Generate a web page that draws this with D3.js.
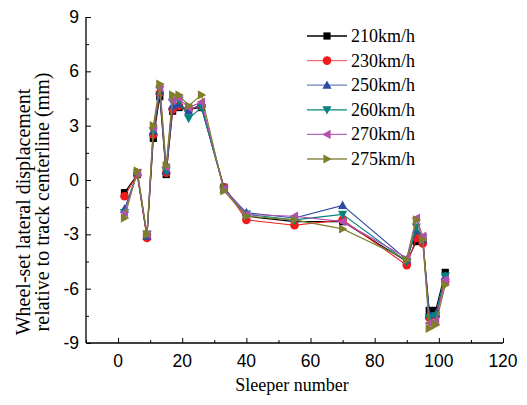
<!DOCTYPE html>
<html>
<head>
<meta charset="utf-8">
<script src="https://cdn.jsdelivr.net/npm/d3@7"></script>
<style>
  body { margin: 0; background: #fff; }
  svg text { fill: #000; }
  .tick-label { font-family: "Liberation Sans", Arial, sans-serif; font-size: 17.5px; }
  .title { font-family: "Liberation Serif", "Times New Roman", serif; font-size: 18px; }
  .ytitle { font-family: "Liberation Serif", "Times New Roman", serif; font-size: 20px; }
  .legend { font-family: "Liberation Serif", "Times New Roman", serif; font-size: 18px; }
</style>
</head>
<body>
<svg id="chart" width="527" height="405"></svg>
<script>
// sleeper positions along the track
var sleepers = [2, 6, 9, 11, 13, 15, 17, 19, 22, 26, 33, 40, 55, 70, 90, 93, 95, 97, 99, 102];

// lateral displacement (mm) per speed
var s210 = [-0.7, 0.3, -3.1, 2.3, 4.6, 0.3, 3.8, 4.0, 3.9, 4.0, -0.4, -2.0, -2.3, -2.3, -4.5, -3.4, -3.3, -7.2, -7.2, -5.1];
var s230 = [-0.9, 0.3, -3.2, 2.5, 4.8, 0.4, 3.9, 4.1, 3.9, 4.1, -0.4, -2.2, -2.5, -2.2, -4.7, -3.2, -3.5, -7.6, -7.5, -5.6];
var s250 = [-1.6, 0.4, -3.1, 2.7, 4.9, 0.5, 4.1, 4.2, 3.8, 4.2, -0.5, -1.8, -2.1, -1.4, -4.4, -2.8, -3.3, -7.4, -7.4, -5.3];
var s260 = [-1.8, 0.4, -3.0, 2.7, 5.0, 0.5, 4.3, 4.4, 3.4, 4.0, -0.5, -1.9, -2.2, -1.9, -4.5, -2.6, -3.2, -7.6, -7.5, -5.3];
var s270 = [-1.8, 0.4, -3.0, 2.9, 5.1, 0.7, 4.4, 4.5, 4.0, 4.3, -0.5, -1.9, -2.0, -2.3, -4.3, -2.1, -3.1, -7.9, -7.8, -5.5];
var s275 = [-2.1, 0.5, -3.0, 3.0, 5.3, 0.8, 4.7, 4.7, 4.1, 4.7, -0.6, -2.0, -2.2, -2.7, -4.4, -2.2, -3.3, -8.2, -8.0, -5.8];

var seriesNames = ['210km/h', '230km/h', '250km/h', '260km/h', '270km/h', '275km/h'];
var seriesValues = [s210, s230, s250, s260, s270, s275];
var colors = ['#000000', '#f01c1c', '#2b4aa3', '#07837f', '#b34fb3', '#7f7f2b'];
var lineColors = ['#000000', '#f26b6b', '#6b82c2', '#07837f', '#b868b8', '#8a8a4a'];
var symbols = ['square', 'circle', 'up', 'down', 'left', 'right'];

var xTicks = [0, 20, 40, 60, 80, 100, 120];
var yTicks = [-9, -6, -3, 0, 3, 6, 9];

var svg = d3.select('#chart');

var x = d3.scaleLinear().domain([-10, 120]).range([86, 503]);
var y = d3.scaleLinear().domain([-9, 9]).range([343, 17]);

// axes, ticks point inward
var xAxis = d3.axisBottom(x).tickValues(d3.range(-10, 121, 10))
	.tickSize(-5).tickFormat('');
var yAxis = d3.axisLeft(y).tickValues(d3.range(-9, 9.1, 1.5))
	.tickSize(-5).tickFormat('');

var gx = svg.append('g').attr('transform', 'translate(0,343)').call(xAxis);
var gy = svg.append('g').attr('transform', 'translate(86,0)').call(yAxis);
gx.select('.domain').attr('d', 'M86,0H503').attr('stroke', '#000').attr('stroke-width', 1.3);
gy.select('.domain').attr('d', 'M0,343V17').attr('stroke', '#000').attr('stroke-width', 1.3);
gx.selectAll('.tick line').attr('stroke-width', 1)
	.attr('y2', function(d) { return d % 20 === 0 ? -5 : -3; });
gy.selectAll('.tick line').attr('stroke-width', 1)
	.attr('x2', function(d) { return d % 3 === 0 ? 5 : 3; });

svg.selectAll('.xlab').data(xTicks).enter().append('text')
	.attr('class', 'tick-label')
	.attr('x', function(d) { return x(d); })
	.attr('y', 367)
	.attr('text-anchor', 'middle')
	.text(function(d) { return d; });

svg.selectAll('.ylab').data(yTicks).enter().append('text')
	.attr('class', 'tick-label')
	.attr('x', 79)
	.attr('y', function(d) { return y(d) + 6; })
	.attr('text-anchor', 'end')
	.text(function(d) { return d; });

svg.append('text')
	.attr('class', 'title')
	.attr('x', 292)
	.attr('y', 391)
	.attr('text-anchor', 'middle')
	.text('Sleeper number');

svg.append('text')
	.attr('class', 'ytitle')
	.attr('transform', 'translate(30,212) rotate(-90)')
	.attr('text-anchor', 'middle')
	.text('Wheel-set lateral displacement');
svg.append('text')
	.attr('class', 'ytitle')
	.attr('transform', 'translate(49,202) rotate(-90)')
	.attr('text-anchor', 'middle')
	.text('relative to track centerline (mm)');

function marker(sel, kind, color) {
	var s = 4.2;
	if (kind === 'square') {
		sel.append('rect').attr('x', -3.6).attr('y', -3.6).attr('width', 7.2).attr('height', 7.2)
			.attr('fill', color);
	} else if (kind === 'circle') {
		sel.append('circle').attr('r', 4.3).attr('fill', color);
	} else {
		var pts = {
			up: [[0, -s - 0.6], [s + 0.4, s - 0.6], [-s - 0.4, s - 0.6]],
			down: [[0, s + 0.6], [s + 0.4, -s + 0.6], [-s - 0.4, -s + 0.6]],
			left: [[-s - 0.6, 0], [s - 0.6, -s - 0.4], [s - 0.6, s + 0.4]],
			right: [[s + 0.6, 0], [-s + 0.6, -s - 0.4], [-s + 0.6, s + 0.4]]
		}[kind];
		sel.append('polygon').attr('points', pts.map(function(p) { return p.join(','); }).join(' '))
			.attr('fill', color);
	}
}

var line = d3.line()
	.x(function(d) { return x(d[0]); })
	.y(function(d) { return y(d[1]); });

seriesValues.forEach(function(vals, i) {
	var pts = sleepers.map(function(s, j) { return [s, vals[j]]; });
	var g = svg.append('g');
	g.append('path').datum(pts)
		.attr('d', line)
		.attr('fill', 'none')
		.attr('stroke', colors[i])
		.attr('stroke-width', 1.1);
	g.selectAll('.m').data(pts).enter().append('g')
		.attr('transform', function(d) { return 'translate(' + x(d[0]) + ',' + y(d[1]) + ')'; })
		.each(function() { marker(d3.select(this), symbols[i], colors[i]); });
});

// legend
var lg = svg.append('g');
seriesNames.forEach(function(name, i) {
	var ly = 36 + i * 24.6;
	lg.append('line')
		.attr('x1', 307).attr('x2', 347)
		.attr('y1', ly).attr('y2', ly)
		.attr('stroke', lineColors[i]).attr('stroke-width', 1.3);
	var m = lg.append('g').attr('transform', 'translate(327,' + ly + ')');
	marker(m, symbols[i], colors[i]);
	lg.append('text')
		.attr('class', 'legend')
		.attr('x', 351)
		.attr('y', ly + 6)
		.text(name);
});
</script>
</body>
</html>
